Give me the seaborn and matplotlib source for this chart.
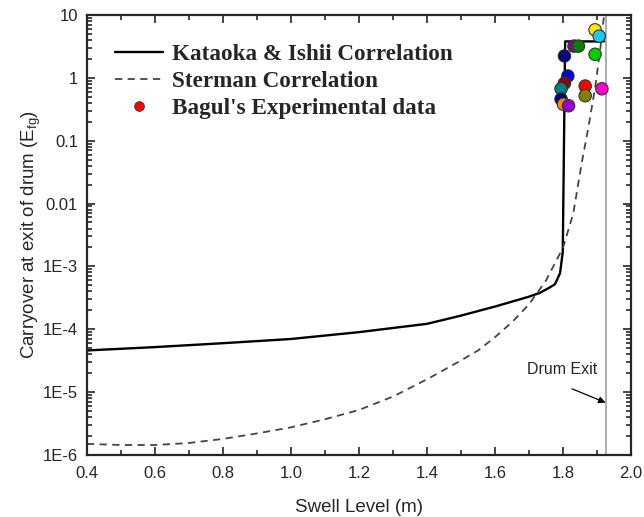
import numpy as np
import pandas as pd
import matplotlib
matplotlib.use("Agg")
import matplotlib.pyplot as plt
from matplotlib.lines import Line2D
from matplotlib.ticker import FixedLocator, LogLocator, MultipleLocator, FuncFormatter
import seaborn as sns

sns.set_style("ticks")
plt.rcParams['font.family'] = ['Liberation Sans', 'DejaVu Sans']
plt.rcParams['mathtext.default'] = 'regular'

# Kataoka & Ishii correlation
kat_x = [0.4, 0.6, 0.8, 1.0, 1.2, 1.4, 1.5, 1.6, 1.7, 1.732, 1.76, 1.776, 1.791, 1.799, 1.806, 1.92]
kat_y = [4.6e-5, 5.2e-5, 6.0e-5, 7.0e-5, 9.0e-5, 1.22e-4, 1.65e-4, 2.3e-4, 3.3e-4, 3.8e-4,
         4.6e-4, 5.2e-4, 7.8e-4, 1.7e-3, 3.8, 3.8]

# Sterman correlation
ster_x = [0.4, 0.5, 0.6, 0.7, 0.8, 0.9, 1.0, 1.1, 1.2, 1.3, 1.4, 1.5, 1.55, 1.6, 1.65, 1.7,
          1.75, 1.8, 1.83, 1.855, 1.875, 1.895, 1.91, 1.92]
ster_y = [1.5e-6, 1.44e-6, 1.44e-6, 1.55e-6, 1.8e-6, 2.2e-6, 2.75e-6, 3.7e-6, 5.2e-6, 8.5e-6,
          1.6e-5, 3.2e-5, 4.6e-5, 7.5e-5, 1.3e-4, 2.5e-4, 6.0e-4, 2.0e-3, 7.0e-3, 4.5e-2,
          0.17, 0.75, 3.1, 9.5]

# Bagul's experimental data
exp_x = [1.894, 1.906, 1.832, 1.845, 1.804, 1.894, 1.814, 1.804, 1.794, 1.865, 1.914,
         1.865, 1.794, 1.801, 1.816]
exp_y = [5.8, 4.6, 3.2, 3.2, 2.23, 2.37, 1.07, 0.82, 0.67, 0.74, 0.67, 0.52, 0.46, 0.38, 0.36]
exp_colors = ['#ffe600', '#1ec8f0', '#8b008b', '#008000', '#000080', '#00d000', '#0000e0',
              '#8b0000', '#008080', '#ff0000', '#ff00cc', '#808000', '#000080', '#ff8c00',
              '#9400d3']

drum_exit = 1.925

y_ticks = [1e-6, 1e-5, 1e-4, 1e-3, 0.01, 0.1, 1, 10]
y_tick_labels = ['1E-6', '1E-5', '1E-4', '1E-3', '0.01', '0.1', '1', '10']

fig, ax = plt.subplots(figsize=(6.44, 5.17), dpi=100)
fig.subplots_adjust(left=0.135, right=0.98, top=0.971, bottom=0.12)

kat = pd.DataFrame({'x': kat_x, 'y': kat_y})
ster = pd.DataFrame({'x': ster_x, 'y': ster_y})
sns.lineplot(data=kat, x='x', y='y', ax=ax, color='black', lw=1.7, sort=False, estimator=None)
sns.lineplot(data=ster, x='x', y='y', ax=ax, color='#444444', lw=1.3, sort=False,
             estimator=None, linestyle=(0, (4, 3)))

ax.axvline(drum_exit, color='#a0a0a0', lw=1.2, zorder=1)

exp = pd.DataFrame({'x': exp_x, 'y': exp_y, 'pt': [str(i) for i in range(len(exp_x))]})
sns.scatterplot(data=exp, x='x', y='y', hue='pt', palette=dict(zip(exp['pt'], exp_colors)),
                ax=ax, s=80, edgecolor='#333333', linewidth=0.8, legend=False, zorder=5)

ax.set_yscale('log')
ax.set_xlim(0.4, 2.0)
ax.set_ylim(1e-6, 10)
ax.xaxis.set_major_locator(MultipleLocator(0.2))
ax.xaxis.set_minor_locator(MultipleLocator(0.1))
ax.xaxis.set_major_formatter(FuncFormatter(lambda v, p: '%.1f' % v))
ax.yaxis.set_major_locator(FixedLocator(y_ticks))
ax.yaxis.set_major_formatter(FuncFormatter(lambda v, p: y_tick_labels[y_ticks.index(min(y_ticks, key=lambda t: abs(np.log10(t) - np.log10(v))))]))
ax.yaxis.set_minor_locator(LogLocator(base=10, subs=np.arange(2, 10), numticks=20))
ax.tick_params(which='both', direction='in', top=True, right=True, labelsize=12, width=1.2)
ax.tick_params(which='major', length=6)
ax.tick_params(which='minor', length=3.5)
ax.tick_params(axis='x', which='major', pad=8)
ax.tick_params(axis='y', which='major', pad=6.5)
for sp in ax.spines.values():
    sp.set_linewidth(1.6)

ax.set_xlabel('Swell Level (m)', fontsize=13.5, labelpad=13)
ax.set_ylabel('Carryover at exit of drum (E$_{fg}$)', fontsize=13.5, labelpad=0)

# drum exit label and arrow
ax.text(1.694, 2.27e-5, 'Drum Exit', fontsize=11.5, ha='left', va='center')
ax.annotate('', xy=(drum_exit, 6.8e-6), xytext=(1.826, 1.13e-5),
            arrowprops=dict(arrowstyle='-|>', color='black', lw=0.9, mutation_scale=10,
                            shrinkA=0, shrinkB=0))

handles = [Line2D([], [], color='black', lw=1.7),
           Line2D([], [], color='#444444', lw=1.3, linestyle=(0, (4, 3))),
           Line2D([], [], color='red', marker='o', linestyle='none', markersize=7,
                  markeredgecolor='#333333', markeredgewidth=0.6)]
labels = ['Kataoka & Ishii Correlation', 'Sterman Correlation', "Bagul's Experimental data"]
ax.legend(handles, labels, loc='upper left', bbox_to_anchor=(0.051, 0.935), frameon=False,
          prop={'family': 'Liberation Serif', 'weight': 'bold', 'size': 16.7},
          handlelength=2.07, handletextpad=0.39, labelspacing=0.25, borderaxespad=0,
          borderpad=0)

fig.savefig('out.png', dpi=100)
